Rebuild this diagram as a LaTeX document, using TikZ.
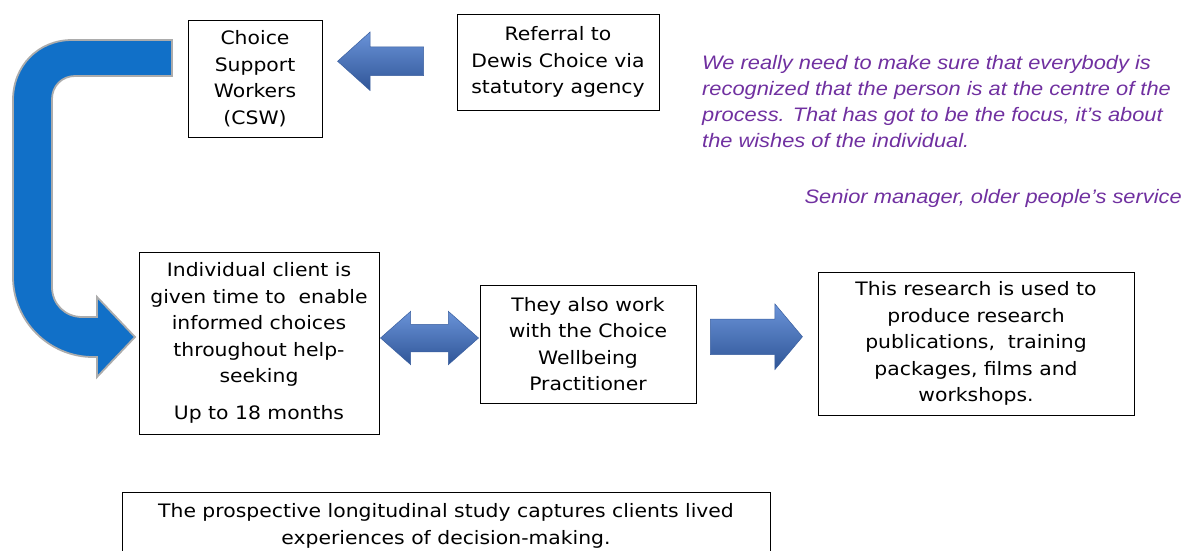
\documentclass[tikz,border=0pt]{standalone}
\usepackage{fontspec}
\setmainfont[FakeStretch=1.1]{DejaVu Sans}
\newfontfamily\quotefont[FakeStretch=1.12]{Liberation Sans}
\usetikzlibrary{shapes.arrows,positioning,calc}

\definecolor{quotepurple}{HTML}{7030A0}
\definecolor{arrowlight}{HTML}{6A93D8}
\definecolor{arrowdark}{HTML}{2F5597}
\definecolor{arrowedge}{HTML}{3A5F9F}
\definecolor{bendblue}{HTML}{1170C8}

\begin{document}
\begin{tikzpicture}[x=1pt, y=-1pt,
  box/.style={draw, line width=0.8pt, align=center, inner sep=2pt,
    font=\fontsize{18.5}{26.5}\selectfont},
  blockarrow/.style={single arrow, inner xsep=0pt, single arrow head indent=0pt,
    top color=arrowlight, bottom color=arrowdark, draw=arrowedge, line width=0.5pt},
  twoway/.style={double arrow, inner xsep=0pt, double arrow head indent=0pt,
    top color=arrowlight, bottom color=arrowdark, draw=arrowedge, line width=0.5pt},
  quote/.style={text=quotepurple, font=\quotefont\itshape\fontsize{19.5}{26}\selectfont, inner sep=0pt}]

\useasboundingbox (0,0) rectangle (1185,551);

% Kaesten
\node[box, minimum width=134, minimum height=117] (csw) at (255,78.5)
  {Choice\\Support\\Workers\\(CSW)};
\node[box, minimum width=202, minimum height=96] (referral) at (558,62)
  {Referral to\\Dewis Choice via\\statutory agency};
\node[box, minimum width=240, minimum height=182] (client) at (259,343)
  {Individual client is\\given time to\ \ enable\\informed choices\\throughout help-\\seeking\\[10pt]Up to 18 months};
\node[box, minimum width=216, minimum height=118] (cwp) at (588,344)
  {They also work\\with the Choice\\Wellbeing\\Practitioner};
\node[box, minimum width=316, minimum height=143] (research) at (976,343.5)
  {This research is used to\\produce research\\publications,\ \ training\\packages, films and\\workshops.};
\node[box, minimum width=648, minimum height=68] (study) at (446,526)
  {The prospective longitudinal study captures clients lived\\experiences of decision-making.};

% Blockpfeile zwischen den Kaesten
\node[blockarrow, shape border rotate=180, minimum height=86, inner ysep=14,
  single arrow head extend=15, single arrow tip angle=84] (a1)
  at ($(referral.west)!0.5!(csw.east)+(-1,-9)$) {};
\node[twoway, minimum height=98, inner ysep=13.5,
  double arrow head extend=13, double arrow tip angle=83] (a2)
  at ($(client.east)!0.5!(cwp.west)+(0,-5.5)$) {};
\node[blockarrow, minimum height=92, inner ysep=17.5,
  single arrow head extend=15, single arrow tip angle=100] (a3)
  at ($(cwp.east)!0.5!(research.west)+(-8,-7)$) {};

% gebogener Pfeil von CSW zum Klienten
\filldraw[fill=bendblue, draw=gray!65, line width=1.8pt]
  (172,40) -- (72,40) .. controls (38,40) and (13,66) .. (13,100)
  -- (13,277) .. controls (13,321) and (49,357) .. (93,357)
  -- (97,357) -- (97,377) -- (135,337) -- (97,297) -- (97,317)
  -- (82,317) .. controls (65,317) and (52,304) .. (52,287)
  -- (52,99) .. controls (52,86) and (62,76) .. (75,76)
  -- (172,76) -- cycle;

% Zitat
\node[quote, anchor=north west, align=left] (quotetext) at (702,55)
  {We really need to make sure that everybody is\\
   recognized that the person is at the centre of the\\
   process. That has got to be the focus, it’s about\\
   the wishes of the individual.};
\node[quote, anchor=east] (speaker) at (1182,198) {Senior manager, older people’s service};

\end{tikzpicture}
\end{document}
